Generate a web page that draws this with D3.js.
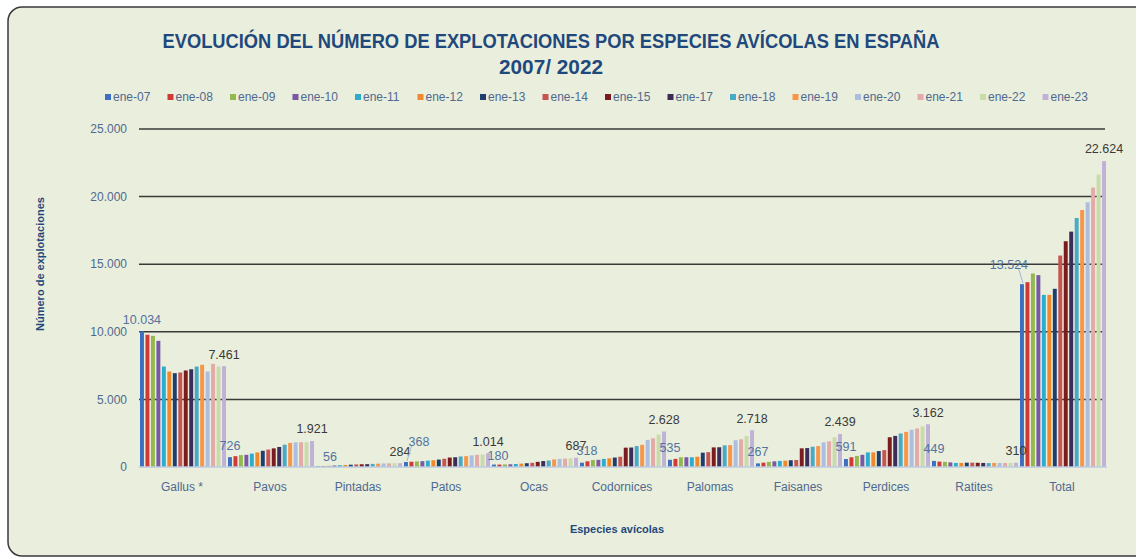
<!DOCTYPE html>
<html>
<head>
<meta charset="utf-8">
<script src="https://cdn.jsdelivr.net/npm/d3@7"></script>
<style>
  body { margin: 0; background: #fff; }
  text { font-family: "Liberation Sans", Arial, sans-serif; }
</style>
</head>
<body>
<div id="chart"></div>
<script>
// categorias y series
const categories = ["Gallus *", "Pavos", "Pintadas", "Patos", "Ocas", "Codornices", "Palomas", "Faisanes", "Perdices", "Ratites", "Total"];
const series = ["ene-07", "ene-08", "ene-09", "ene-10", "ene-11", "ene-12", "ene-13", "ene-14", "ene-15", "ene-17", "ene-18", "ene-19", "ene-20", "ene-21", "ene-22", "ene-23"];
const colors = ["#3f6fbf", "#cf3a36", "#93b84e", "#7b58a6", "#2eaccd", "#f0892c", "#1e3e6e", "#c65552", "#7a1c1e", "#3d2b5a", "#47abc8", "#f7954a", "#adbde0", "#e2aaa9", "#c8dcaa", "#bfb1d8"];

// valores por especie, un valor por serie (ene-07 ... ene-23)
const gallus     = [10034, 9780, 9700, 9330, 7430, 7060, 6940, 6990, 7140, 7230, 7430, 7560, 7060, 7630, 7430, 7461];
const pavos      = [726, 800, 880, 900, 990, 1080, 1200, 1290, 1380, 1480, 1650, 1780, 1820, 1830, 1830, 1921];
const pintadas   = [56, 70, 90, 110, 130, 150, 170, 190, 200, 210, 230, 250, 260, 270, 280, 284];
const patos      = [368, 390, 410, 430, 470, 500, 550, 610, 700, 720, 780, 800, 860, 900, 930, 1014];
const ocas       = [180, 180, 190, 200, 220, 250, 280, 310, 380, 440, 480, 560, 600, 620, 640, 687];
const codornices = [318, 420, 520, 530, 600, 640, 700, 760, 1430, 1440, 1550, 1640, 2000, 2120, 2400, 2628];
const palomas    = [535, 600, 720, 720, 720, 760, 1060, 1100, 1450, 1460, 1600, 1620, 1980, 2050, 2300, 2718];
const faisanes   = [267, 320, 380, 420, 450, 470, 500, 520, 1380, 1400, 1500, 1550, 1820, 1900, 2200, 2439];
const perdices   = [591, 720, 820, 900, 1080, 1080, 1180, 1250, 2200, 2300, 2480, 2600, 2750, 2850, 3000, 3162];
const ratites    = [449, 400, 380, 340, 300, 300, 320, 320, 310, 300, 290, 300, 300, 300, 300, 310];
const total      = [13524, 13670, 14310, 14190, 12730, 12730, 13180, 15640, 16700, 17410, 18420, 19010, 19580, 20670, 21630, 22624];

const yTicks = [0, 5000, 10000, 15000, 20000, 25000];

const values = [gallus, pavos, pintadas, patos, ocas, codornices, palomas, faisanes, perdices, ratites, total];

// etiquetas desplazadas a mano: [dx, dy, linea guia]
const labelNudge = {
    "Pintadas": [12, 2, false],
    "Patos": [13, -8, true],
    "Ocas": [4, 3, false],
    "Codornices": [5, 0, false],
    "Total": [-13, -8, true]
};

const width = 1136, height = 558;
const plotLeft = 139, plotRight = 1107, plotTop = 129, plotBottom = 467;

const locale = d3.formatLocale({ decimal: ",", thousands: ".", grouping: [3], currency: ["", ""] });
const fmt = locale.format(",d");

const svg = d3.select("#chart").append("svg")
    .attr("width", width)
    .attr("height", height);

svg.append("rect")
    .attr("x", 8).attr("y", 7)
    .attr("width", 1160).attr("height", 549)
    .attr("rx", 14)
    .attr("fill", "#eaeedc")
    .attr("stroke", "#3a3a3a")
    .attr("stroke-width", 1.5);

// titulo
svg.append("text")
    .attr("x", 551).attr("y", 48)
    .attr("text-anchor", "middle")
    .attr("textLength", 777).attr("lengthAdjust", "spacingAndGlyphs")
    .attr("font-size", 20).attr("font-weight", "bold")
    .attr("fill", "#1f497d")
    .text("EVOLUCIÓN DEL NÚMERO DE EXPLOTACIONES POR ESPECIES AVÍCOLAS EN ESPAÑA");

svg.append("text")
    .attr("x", 551).attr("y", 74)
    .attr("text-anchor", "middle")
    .attr("textLength", 104).attr("lengthAdjust", "spacingAndGlyphs")
    .attr("font-size", 20).attr("font-weight", "bold")
    .attr("fill", "#1f497d")
    .text("2007/ 2022");

// leyenda
const legend = svg.append("g").selectAll("g")
    .data(series)
    .enter().append("g")
    .attr("transform", (d, i) => `translate(${105 + i * 62.5},97)`);

legend.append("rect")
    .attr("x", 0).attr("y", -3)
    .attr("width", 6).attr("height", 6)
    .attr("fill", (d, i) => colors[i]);

legend.append("text")
    .attr("x", 8).attr("dy", "0.35em")
    .attr("font-size", 12)
    .attr("fill", "#4f6a90")
    .text(d => d);

// escalas
const y = d3.scaleLinear().domain([0, 25000]).range([plotBottom, plotTop]);
const x0 = d3.scaleBand().domain(categories).range([plotLeft, plotRight]);
const x1 = d3.scaleBand().domain(series).range([1, x0.bandwidth() - 1]).paddingInner(0.28);

// rejilla
svg.append("g").selectAll("line")
    .data(yTicks.filter(d => d > 0))
    .enter().append("line")
    .attr("x1", plotLeft).attr("x2", plotRight - 2)
    .attr("y1", d => y(d)).attr("y2", d => y(d))
    .attr("stroke", "#3a3a3a")
    .attr("stroke-width", 1.5);

svg.append("g").selectAll("text")
    .data(yTicks)
    .enter().append("text")
    .attr("x", 127).attr("y", d => y(d))
    .attr("dy", "0.35em")
    .attr("text-anchor", "end")
    .attr("font-size", 12)
    .attr("fill", "#4f6a90")
    .text(d => fmt(d));

// barras
const groups = svg.append("g").selectAll("g")
    .data(categories)
    .enter().append("g")
    .attr("transform", d => `translate(${x0(d)},0)`);

groups.selectAll("rect")
    .data((c, ci) => series.map((s, si) => ({ s: s, si: si, v: values[ci][si] })))
    .enter().append("rect")
    .attr("x", d => x1(d.s))
    .attr("width", x1.bandwidth())
    .attr("y", d => y(d.v))
    .attr("height", d => plotBottom - y(d.v))
    .attr("fill", d => colors[d.si]);

svg.append("line")
    .attr("x1", plotLeft).attr("x2", plotRight)
    .attr("y1", plotBottom).attr("y2", plotBottom)
    .attr("stroke", "#bccbe2")
    .attr("stroke-width", 1.5);

// etiquetas de datos (primer y ultimo valor)
const last = series.length - 1;
categories.forEach((c, ci) => {
    [0, last].forEach(si => {
        const v = values[ci][si];
        const bx = x0(c) + x1(series[si]) + x1.bandwidth() / 2;
        const by = y(v);
        let nx = 0, ny = 0;
        if (si === 0 && labelNudge[c]) {
            nx = labelNudge[c][0];
            ny = labelNudge[c][1];
            if (labelNudge[c][2]) {
                svg.append("line")
                    .attr("x1", bx + 1).attr("y1", by - 1)
                    .attr("x2", bx + nx * 0.35 + 1).attr("y2", by - 12 + ny + 4)
                    .attr("stroke", "#9db8da")
                    .attr("stroke-width", 1);
            }
        }
        svg.append("text")
            .attr("x", bx + nx)
            .attr("y", by - 12 + ny)
            .attr("dy", "0.35em")
            .attr("text-anchor", "middle")
            .attr("font-size", 12.5)
            .attr("fill", si === 0 ? "#5373a0" : "#3a3a3a")
            .text(fmt(v));
    });
});

// ejes: etiquetas de categorias
svg.append("g").selectAll("text")
    .data(categories)
    .enter().append("text")
    .attr("x", d => x0(d) + x0.bandwidth() / 2 - 1)
    .attr("y", 487)
    .attr("dy", "0.35em")
    .attr("text-anchor", "middle")
    .attr("font-size", 12)
    .attr("fill", "#4f6a90")
    .text(d => d);

svg.append("text")
    .attr("x", 617).attr("y", 529)
    .attr("dy", "0.35em")
    .attr("text-anchor", "middle")
    .attr("font-size", 11).attr("font-weight", "bold")
    .attr("fill", "#1f497d")
    .text("Especies avícolas");

svg.append("text")
    .attr("transform", "translate(40,264) rotate(-90)")
    .attr("dy", "0.35em")
    .attr("text-anchor", "middle")
    .attr("font-size", 11).attr("font-weight", "bold")
    .attr("fill", "#1f497d")
    .text("Número de explotaciones");
</script>
</body>
</html>
